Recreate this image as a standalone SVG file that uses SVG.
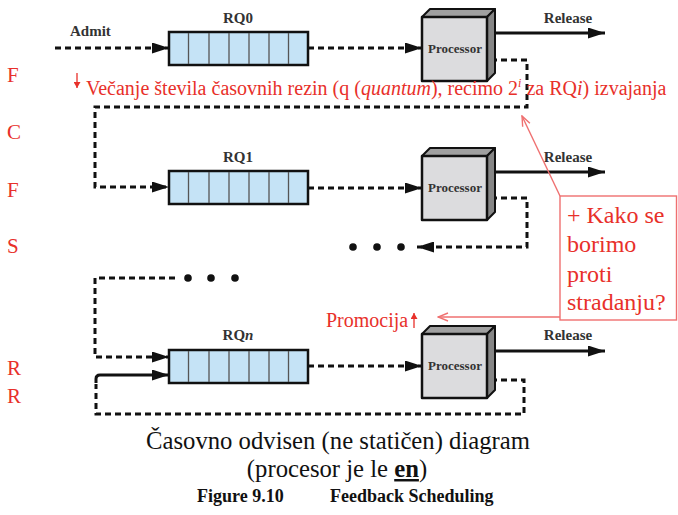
<svg xmlns="http://www.w3.org/2000/svg" width="678" height="515" viewBox="0 0 678 515">
<defs>
<style>
.lbl{font-family:"Liberation Serif","Times New Roman",serif;font-weight:bold;font-size:15px;fill:#333;}
.plbl{font-family:"Liberation Serif","Times New Roman",serif;font-weight:bold;font-size:13px;fill:#333;}
.red{font-family:"Liberation Serif","Times New Roman",serif;fill:#e8302a;}
.cap{font-family:"Liberation Serif","Times New Roman",serif;fill:#111;}
.dash{fill:none;stroke:#111;stroke-width:3;stroke-dasharray:6 4;}
.solid{fill:none;stroke:#111;stroke-width:3;}
.qbox{fill:#c5e3f6;stroke:#111;stroke-width:2.5;}
.qdiv{stroke:#555;stroke-width:1.3;}
.front{fill:#dcdcde;stroke:#111;stroke-width:2.5;stroke-linejoin:round;}
.top{fill:#a0a0a0;stroke:#111;stroke-width:2;stroke-linejoin:round;}
.side{fill:#868686;stroke:#111;stroke-width:2;stroke-linejoin:round;}
.rline{fill:none;stroke:#ef7070;stroke-width:1.4;}
.dot{fill:#111;}
</style>
<marker id="ah" markerUnits="userSpaceOnUse" markerWidth="17" markerHeight="11" refX="17" refY="5.5" orient="auto">
<path d="M0,0 L17,5.5 L0,11 Z" fill="#111" stroke="none"/>
</marker>
<marker id="ro" markerUnits="userSpaceOnUse" markerWidth="12" markerHeight="10" refX="11" refY="5" orient="auto">
<path d="M1,1 L11,5 L1,9" fill="none" stroke="#ef7070" stroke-width="1.4"/>
</marker>
<marker id="rs" markerUnits="userSpaceOnUse" markerWidth="7" markerHeight="7" refX="6" refY="3.5" orient="auto">
<path d="M0,0 L6,3.5 L0,7 Z" fill="#e8302a" stroke="none"/>
</marker>
<g id="cells">
<rect class="qbox" x="0" y="0" width="139" height="33"/>
<line class="qdiv" x1="19.5" y1="1" x2="19.5" y2="32"/>
<line class="qdiv" x1="40" y1="1" x2="40" y2="32"/>
<line class="qdiv" x1="60" y1="1" x2="60" y2="32"/>
<line class="qdiv" x1="80" y1="1" x2="80" y2="32"/>
<line class="qdiv" x1="100" y1="1" x2="100" y2="32"/>
<line class="qdiv" x1="119.5" y1="1" x2="119.5" y2="32"/>
</g>
<g id="proc">
<polygon class="top" points="0,0 8,-8 73,-8 65,0"/>
<polygon class="side" points="65,0 73,-8 73,56 65,64"/>
<rect class="front" x="0" y="0" width="65" height="64"/>
</g>
</defs>

<g id="connectors">
<path class="dash" d="M55,48 H169" marker-end="url(#ah)"/>
<path class="dash" d="M308,48 H422" marker-end="url(#ah)"/>
<path class="solid" d="M491,33 H605" marker-end="url(#ah)"/>
<path class="dash" d="M491,60 H527 V107 H95 V187 H169" marker-end="url(#ah)"/>
<path class="dash" d="M308,188 H422" marker-end="url(#ah)"/>
<path class="solid" d="M491,172 H605" marker-end="url(#ah)"/>
<path class="dash" d="M491,198 H527 V247 H417" marker-end="url(#ah)"/>
<path class="dash" d="M175,278 H95 V357 H169" marker-end="url(#ah)"/>
<path class="solid" d="M96,383 V379 Q96,375 100,375 H169" marker-end="url(#ah)"/>
<path class="dash" d="M308,366 H422" marker-end="url(#ah)"/>
<path class="solid" d="M491,351 H605" marker-end="url(#ah)"/>
<path class="dash" d="M491,380 H524 V414 H96 V384"/>
<circle class="dot" cx="353" cy="247" r="3.8"/>
<circle class="dot" cx="377" cy="247" r="3.8"/>
<circle class="dot" cx="401" cy="247" r="3.8"/>
<circle class="dot" cx="188" cy="278" r="3.8"/>
<circle class="dot" cx="211" cy="278" r="3.8"/>
<circle class="dot" cx="235" cy="278" r="3.8"/>
</g>

<text class="lbl" x="70" y="36">Admit</text>

<g id="rq0">
<use href="#cells" x="169" y="32"/>
<text class="lbl" x="238" y="23" text-anchor="middle">RQ0</text>
</g>
<g id="proc0">
<use href="#proc" x="422" y="17"/>
<text class="plbl" x="455" y="53" text-anchor="middle">Processor</text>
<text class="lbl" x="568" y="23" text-anchor="middle">Release</text>
</g>

<g id="rq1">
<use href="#cells" x="169" y="171"/>
<text class="lbl" x="238" y="162" text-anchor="middle">RQ1</text>
</g>
<g id="proc1">
<use href="#proc" x="422" y="156"/>
<text class="plbl" x="455" y="192" text-anchor="middle">Processor</text>
<text class="lbl" x="568" y="162" text-anchor="middle">Release</text>
</g>

<g id="rqn">
<use href="#cells" x="169" y="350"/>
<text class="lbl" x="238" y="340" text-anchor="middle">RQ<tspan font-style="italic">n</tspan></text>
</g>
<g id="procn">
<use href="#proc" x="422" y="334"/>
<text class="plbl" x="455" y="370" text-anchor="middle">Processor</text>
<text class="lbl" x="568" y="340" text-anchor="middle">Release</text>
</g>

<g id="side-letters" class="red" font-size="21">
<text x="7" y="82">F</text>
<text x="7" y="139">C</text>
<text x="7" y="197">F</text>
<text x="7" y="253">S</text>
<text x="7" y="375">R</text>
<text x="7" y="403">R</text>
</g>

<g id="quantum-note">
<path d="M77,73 V88" stroke="#e8302a" stroke-width="1.3" marker-end="url(#rs)"/>
<text class="red" x="86" y="95" font-size="20">Večanje števila časovnih rezin (q (<tspan font-style="italic">quantum</tspan>), recimo 2<tspan font-style="italic" font-size="12" dy="-8">i</tspan><tspan dy="8"> za RQ</tspan><tspan font-style="italic">i</tspan>) izvajanja</text>
</g>

<g id="promocija">
<text class="red" x="326" y="327" font-size="20">Promocija</text>
<path d="M414,328 V313" stroke="#e8302a" stroke-width="1.3" marker-end="url(#rs)"/>
</g>

<g id="callout">
<rect x="560" y="196" width="116.5" height="124" fill="#fff" stroke="#ef7070" stroke-width="1.4"/>
<path class="rline" d="M560,196 L522,116" marker-end="url(#ro)"/>
<path class="rline" d="M560,317 H438" marker-end="url(#ro)"/>
<text class="red" font-size="24">
<tspan x="567" y="223">+ Kako se</tspan>
<tspan x="567" y="252">borimo</tspan>
<tspan x="567" y="282">proti</tspan>
<tspan x="567" y="310">stradanju?</tspan>
</text>
</g>

<g id="caption">
<text class="cap" x="338" y="449" font-size="24.7" text-anchor="middle">Časovno odvisen (ne statičen) diagram</text>
<text class="cap" x="337" y="477" font-size="24.7" text-anchor="middle">(procesor je le <tspan font-weight="bold" text-decoration="underline">en</tspan>)</text>
<text class="cap" x="197" y="502" font-size="18" font-weight="bold" fill="#333">Figure 9.10</text>
<text class="cap" x="330" y="502" font-size="18" font-weight="bold" fill="#333">Feedback Scheduling</text>
</g>
</svg>
